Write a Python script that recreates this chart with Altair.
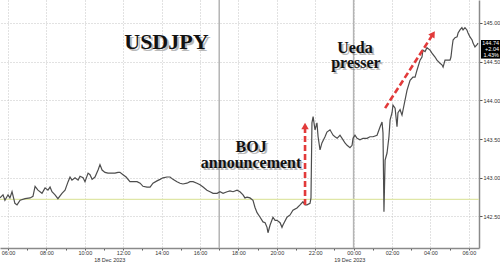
import altair as alt
import pandas as pd

# hours since 18 Dec 2023 00:00 and USDJPY price
hours = [5.58, 5.74, 5.84, 6.00, 6.10, 6.21, 6.36, 6.47, 6.63, 6.89, 7.15, 7.30, 7.41, 7.56, 7.77, 7.93,
         8.08, 8.19, 8.29, 8.45, 8.60, 8.81, 8.97, 9.13, 9.23, 9.33, 9.49, 9.65, 9.75, 9.91, 10.01, 10.17,
         10.27, 10.38, 10.53, 10.69, 10.79, 10.90, 11.05, 11.21, 11.42, 11.57, 11.73, 11.83, 11.99, 12.15,
         12.35, 12.51, 12.72, 12.88, 13.03, 13.24, 13.40, 13.55, 13.76, 13.92, 14.07, 14.28, 14.44, 14.59,
         14.80, 14.96, 15.11, 15.32, 15.48, 15.64, 15.84, 16.00, 16.16, 16.36, 16.52, 16.68, 16.89, 17.04,
         17.20, 17.41, 17.56, 17.72, 17.93, 18.08, 18.24, 18.34, 18.45, 18.60, 18.76, 18.86, 18.97, 19.13,
         19.28, 19.39, 19.49, 19.54, 19.65, 19.80, 19.91, 20.01, 20.17, 20.27, 20.32, 20.53, 20.69, 20.84,
         21.05, 21.21, 21.36, 21.47, 21.57, 21.73, 21.78, 21.83, 21.89, 21.99, 22.09, 22.15, 22.25, 22.35,
         22.51, 22.61, 22.77, 22.93, 23.03, 23.14, 23.29, 23.45, 23.55, 23.66, 23.81, 23.92, 23.97, 24.07,
         24.18, 24.33, 24.49, 24.70, 24.85, 25.01, 25.22, 25.38, 25.48, 25.53, 25.58, 25.64, 25.74, 25.84,
         25.90, 26.00, 26.05, 26.16, 26.26, 26.31, 26.42, 26.52, 26.78, 26.94, 27.09, 27.20, 27.30, 27.46,
         27.56, 27.61, 27.72, 27.82, 27.98, 28.08, 28.24, 28.34, 28.50, 28.60, 28.66, 28.76, 28.86, 28.97,
         29.02, 29.07, 29.13, 29.18, 29.28, 29.39, 29.44, 29.54, 29.64, 29.70, 29.80, 29.90, 29.96, 30.06,
         30.17, 30.22, 30.32, 30.43, 30.48]
prices = [142.74, 142.78, 142.71, 142.78, 142.74, 142.82, 142.67, 142.65, 142.71, 142.73, 142.74, 142.76, 142.89, 142.84, 142.80, 142.87,
          142.84, 142.88, 142.82, 142.78, 142.73, 142.80, 142.84, 142.95, 143.01, 142.97, 143.00, 142.97, 143.02, 143.00, 142.95, 143.06,
          143.04, 142.98, 143.01, 143.10, 143.17, 143.10, 143.07, 143.06, 143.06, 143.06, 143.07, 143.07, 143.04, 143.01,
          142.95, 142.95, 142.95, 142.93, 142.89, 142.88, 142.88, 142.93, 142.96, 142.98, 143.00, 143.01, 143.01, 142.98,
          142.95, 142.93, 142.92, 142.93, 142.95, 142.95, 142.93, 142.91, 142.88, 142.84, 142.82, 142.80, 142.80, 142.82,
          142.80, 142.82, 142.83, 142.82, 142.84, 142.82, 142.78, 142.74, 142.75, 142.74, 142.71, 142.62, 142.55, 142.49,
          142.43, 142.42, 142.36, 142.29, 142.39, 142.49, 142.45, 142.45, 142.42, 142.36, 142.39, 142.49, 142.52, 142.58,
          142.61, 142.65, 142.69, 142.65, 142.65, 142.67, 142.74, 143.71, 143.79, 143.62, 143.71, 143.53, 143.36, 143.45,
          143.53, 143.59, 143.62, 143.55, 143.53, 143.51, 143.55, 143.49, 143.45, 143.42, 143.39, 143.42, 143.51, 143.55,
          143.51, 143.49, 143.51, 143.51, 143.53, 143.53, 143.55, 143.66, 143.72, 143.58, 142.56, 143.23, 143.32, 143.53,
          143.75, 143.84, 143.94, 143.90, 143.66, 143.84, 143.88, 143.81, 144.13, 144.26, 144.30, 144.30, 144.39, 144.52,
          144.56, 144.65, 144.63, 144.68, 144.65, 144.61, 144.56, 144.52, 144.48, 144.46, 144.43, 144.52, 144.52, 144.52,
          144.52, 144.56, 144.69, 144.78, 144.81, 144.82, 144.87, 144.91, 144.94, 144.91, 144.94, 144.91, 144.87, 144.82,
          144.78, 144.74, 144.69, 144.72, 144.74]

ref_level = [142.72]
session_breaks = [17.0, 24.0]

title_text = ["USDJPY"]
title_h = [14.25]
title_v = [144.66]

note_text = ["BOJ", "announcement", "Ueda", "presser"]
note_h = [18.66, 18.66, 24.07, 24.12]
note_v = [143.33, 143.13, 144.61, 144.42]

arrow_id = ["boj", "boj", "ueda", "ueda"]
arrow_h = [21.47, 21.47, 25.64, 28.12]
arrow_v = [142.65, 143.64, 143.90, 144.85]
head_h = [21.47, 28.14]
head_v = [143.67, 144.86]
head_angle = [0, 33]

last_lines = ["144.74", "+2.04", "1.43%"]
last_v = [144.74, 144.66, 144.58]

date_text = ["18 Dec 2023", "19 Dec 2023"]
date_h = [11.3, 23.8]

x_ticks = list(range(6, 31))
y_ticks = [142.5, 143.0, 143.5, 144.0, 144.5, 145.0]

xs = alt.Scale(domain=[5.583, 30.53], nice=False, zero=False)
ys = alt.Scale(domain=[142.093, 145.297], nice=False, zero=False)

price_df = pd.DataFrame({"h": hours, "v": prices})

x_axis = alt.Axis(
    values=x_ticks,
    labelExpr="(datum.value % 2 == 0) ? (((datum.value % 24) < 10 ? '0' : '') + (datum.value % 24) + ':00') : ''",
    grid=True,
    gridColor="#c4c4c4",
    gridDash=[1, 2],
    gridOpacity={"condition": {"test": "datum.value % 2 == 0", "value": 1}, "value": 0},
    tickSize=2, tickColor="#555",
    domainColor="#8a8a8a", domainWidth=1.5,
    labelFont="Liberation Sans", labelFontSize=5.5, labelColor="#333",
    labelPadding=0, title=None,
)
y_axis = alt.Axis(
    orient="right", values=y_ticks, format=".2f",
    grid=True, gridColor="#c4c4c4", gridDash=[1, 2],
    tickSize=3, tickColor="#555",
    domainColor="#8a8a8a", domainWidth=1.5,
    labelFont="Liberation Sans", labelFontSize=5.5, labelColor="#333",
    labelPadding=1, title=None,
)

def X(f="h:Q"):
    return alt.X(f, scale=xs, axis=x_axis)

def Y(f="v:Q"):
    return alt.Y(f, scale=ys, axis=y_axis)

line = alt.Chart(price_df).mark_line(color="#4d4d4d", strokeWidth=1.2).encode(x=X(), y=Y())

breaks = alt.Chart(pd.DataFrame({"h": session_breaks})).mark_rule(color="#b4b4b4", strokeWidth=1.5).encode(x=X())
ref = alt.Chart(pd.DataFrame({"v": ref_level})).mark_rule(color="#dfe6a6", strokeWidth=1.2).encode(y=Y())

arrows = alt.Chart(pd.DataFrame({"id": arrow_id, "h": arrow_h, "v": arrow_v})).mark_line(
    color="#e23a3a", strokeWidth=2.6, strokeDash=[6, 3]
).encode(x=X(), y=Y(), detail="id:N")
heads = alt.Chart(pd.DataFrame({"h": head_h, "v": head_v, "a": head_angle})).mark_point(
    shape="triangle-up", filled=True, color="#e23a3a", size=55, opacity=1
).encode(x=X(), y=Y(), angle=alt.Angle("a:Q", scale=None))

def shadowed(df, size):
    base = alt.Chart(df)
    sh = base.mark_text(font="Liberation Serif", fontWeight="bold", fontSize=size, color="#666",
                        opacity=0.45, dx=2, dy=2, baseline="alphabetic", align="center").encode(
        x=X(), y=Y(), text="t:N")
    fg = base.mark_text(font="Liberation Serif", fontWeight="bold", fontSize=size, color="#111",
                        baseline="alphabetic", align="center").encode(
        x=X(), y=Y(), text="t:N")
    return sh + fg

title = shadowed(pd.DataFrame({"t": title_text, "h": title_h, "v": title_v}), 22)
notes = shadowed(pd.DataFrame({"t": note_text, "h": note_h, "v": note_v}), 16)

box = alt.Chart(pd.DataFrame({"v": [last_v[0] + 0.04], "v2": [last_v[-1] - 0.04]})).mark_rect(color="#000").encode(
    x=alt.value(481), x2=alt.value(500), y=Y(), y2="v2:Q",
)
box_text = alt.Chart(pd.DataFrame({"t": last_lines, "v": last_v})).mark_text(
    font="Liberation Sans", fontSize=5.5, color="#fff", align="right", baseline="middle"
).encode(x=alt.value(499), y=Y(), text="t:N")

dates = alt.Chart(pd.DataFrame({"t": date_text, "h": date_h})).mark_text(
    font="Liberation Sans", fontSize=5.5, color="#333", baseline="middle", align="center"
).encode(x=X(), y=alt.value(259.5), text="t:N")

chart = alt.layer(breaks, ref, line, arrows, heads, title, notes, box, box_text, dates).properties(
    width=479, height=248,
    autosize="none",
    padding={"left": 0, "top": 0, "right": 21, "bottom": 15},
    background="white",
).configure_view(stroke=None)

chart.save("out.html", embed_options={"renderer": "svg", "actions": False})
